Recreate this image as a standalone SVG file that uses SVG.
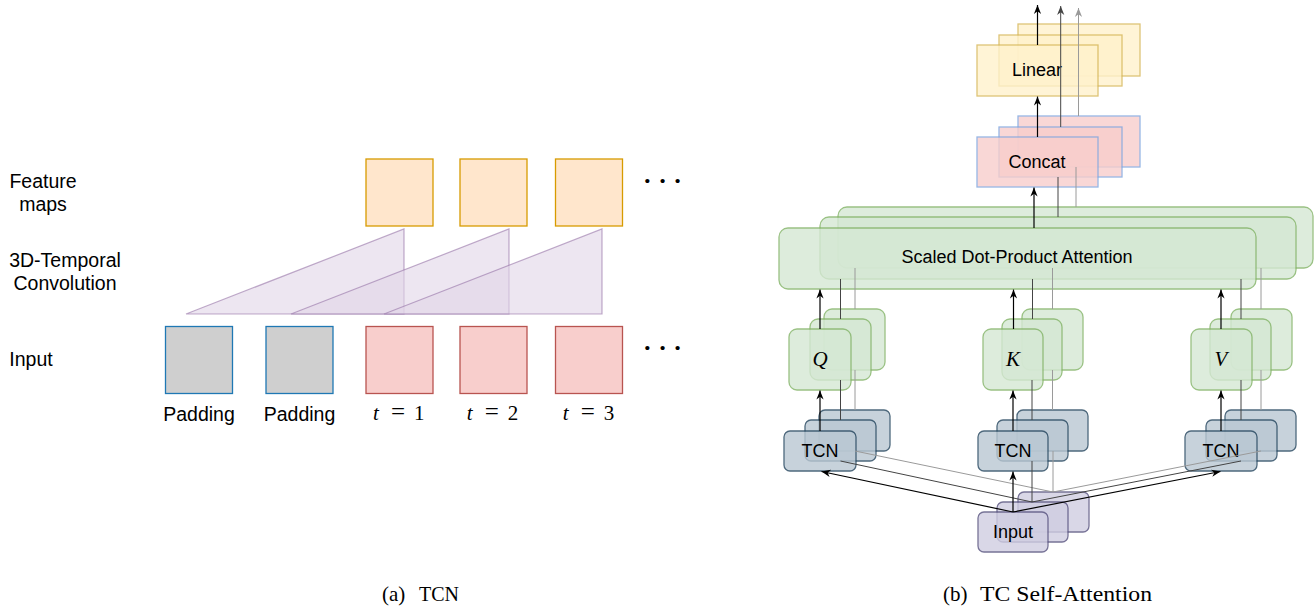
<svg xmlns="http://www.w3.org/2000/svg" width="1314" height="610" viewBox="0 0 1314 610">
<style>
.lbl{font-family:"Liberation Sans",Arial,sans-serif;font-size:19.5px;fill:#000}
.rl{font-family:"Liberation Sans",Arial,sans-serif;font-size:18px;fill:#000;text-anchor:middle}
.math{font-family:"Liberation Serif","Times New Roman",serif;font-size:21px;fill:#000}
.eq{font-size:25px}
.cap{font-family:"Liberation Serif","Times New Roman",serif;font-size:21px;fill:#000}
.dots{font-family:"Liberation Serif","Times New Roman",serif;font-size:26px;font-weight:bold;fill:#000}
.fm{fill:#ffe6cc;stroke:#d79b00;stroke-width:1.3}
.xin{fill:#f8cecc;stroke:#b85450;stroke-width:1.3}
.pad{fill:#cfcfcf;stroke:#1f78b4;stroke-width:1.3}
.tri{fill:#e1d5e7;fill-opacity:.6;stroke:#9673a6;stroke-opacity:.6;stroke-width:1.2}
.stk{opacity:.8;stroke-width:1.3}
.att{fill:#d5e8d4;stroke:#82b366}
.lin{fill:#fff2cc;stroke:#d6b656}
.cat{fill:#f8cecc;stroke:#7ea6e0}
.tcn{fill:#bac8d3;stroke:#23445d}
.inp{fill:#d0cee2;stroke:#56517e}
.c0{stroke:#000;stroke-width:1.2;fill:none}
.c1{stroke:#444;stroke-width:1;fill:none}
.c2{stroke:#9a9a9a;stroke-width:1;fill:none}
</style>
<defs>
<marker id="ah0" viewBox="0 0 10 10" refX="10" refY="5" markerWidth="9" markerHeight="9" markerUnits="userSpaceOnUse" orient="auto"><path d="M0,1 L10,5 L0,9 L3,5 z" fill="#000"/></marker>
<marker id="ah1" viewBox="0 0 10 10" refX="10" refY="5" markerWidth="9" markerHeight="9" markerUnits="userSpaceOnUse" orient="auto"><path d="M0,1 L10,5 L0,9 L3,5 z" fill="#444"/></marker>
<marker id="ah2" viewBox="0 0 10 10" refX="10" refY="5" markerWidth="9" markerHeight="9" markerUnits="userSpaceOnUse" orient="auto"><path d="M0,1 L10,5 L0,9 L3,5 z" fill="#9a9a9a"/></marker>
</defs>
<rect width="1314" height="610" fill="#fff"/>

<!-- (a) TCN -->
<g id="row-labels">
<text class="lbl" x="43" y="188" text-anchor="middle">Feature</text>
<text class="lbl" x="43" y="211" text-anchor="middle">maps</text>
<text class="lbl" x="65" y="267" text-anchor="middle">3D-Temporal</text>
<text class="lbl" x="65" y="290" text-anchor="middle">Convolution</text>
<text class="lbl" x="31" y="366" text-anchor="middle">Input</text>
</g>
<g id="conv">
<polygon class="tri" points="186,314 404,314 404,229"/>
<polygon class="tri" points="291,314 509,314 509,229"/>
<polygon class="tri" points="384,314 602,314 602,229"/>
</g>
<g id="fmap1"><rect class="fm" x="366" y="159" width="67" height="67"/></g>
<g id="fmap2"><rect class="fm" x="460" y="159" width="67" height="67"/></g>
<g id="fmap3"><rect class="fm" x="555.5" y="159" width="67" height="67"/></g>
<g id="fmap-dots"><text class="dots" x="643" y="188.5">· · ·</text></g>
<g id="pad1"><rect class="pad" x="165.5" y="326.5" width="67" height="67"/><text class="lbl" x="199" y="421" text-anchor="middle">Padding</text></g>
<g id="pad2"><rect class="pad" x="266" y="326.5" width="67" height="67"/><text class="lbl" x="299.5" y="421" text-anchor="middle">Padding</text></g>
<g id="in1"><rect class="xin" x="366" y="326.5" width="67" height="67"/><text class="math" y="420"><tspan x="373" font-style="italic">t</tspan><tspan class="eq" x="391">=</tspan><tspan x="414">1</tspan></text></g>
<g id="in2"><rect class="xin" x="460" y="326.5" width="67" height="67"/><text class="math" y="420"><tspan x="466.7" font-style="italic">t</tspan><tspan class="eq" x="484.7">=</tspan><tspan x="507.7">2</tspan></text></g>
<g id="in3"><rect class="xin" x="555.5" y="326.5" width="67" height="67"/><text class="math" y="420"><tspan x="562.7" font-style="italic">t</tspan><tspan class="eq" x="580.7">=</tspan><tspan x="603.7">3</tspan></text></g>
<g id="in-dots"><text class="dots" x="643" y="356">· · ·</text></g>
<g id="caption-a"><text class="cap" y="601"><tspan x="382">(a)</tspan><tspan x="419" textLength="40" lengthAdjust="spacingAndGlyphs">TCN</tspan></text></g>

<!-- (b) TC Self-Attention -->
<g id="linear">
<rect class="stk lin" x="1018" y="24" width="122" height="52"/>
<rect class="stk lin" x="999" y="35" width="123" height="51"/>
<rect class="stk lin" x="977" y="45" width="121" height="51"/>
<text class="rl" x="1037" y="76">Linear</text>
</g>
<g id="concat">
<rect class="stk cat" x="1018" y="116" width="122" height="51"/>
<rect class="stk cat" x="999" y="127" width="123" height="50"/>
<rect class="stk cat" x="977" y="137" width="121" height="50"/>
<text class="rl" x="1037" y="168">Concat</text>
</g>
<g id="attention">
<rect class="stk att" x="838" y="207" width="475" height="61" rx="9"/>
<rect class="stk att" x="820" y="217" width="476" height="62" rx="9"/>
<rect class="stk att" x="779" y="228" width="477" height="61" rx="9"/>
<text class="rl" x="1017" y="263">Scaled Dot-Product Attention</text>
</g>
<g id="q">
<rect class="stk att" x="824" y="309" width="61" height="61" rx="8"/>
<rect class="stk att" x="810" y="319" width="61" height="61" rx="8"/>
<rect class="stk att" x="789" y="329" width="62" height="61" rx="8"/>
<text class="math" x="820" y="366" text-anchor="middle" font-style="italic" font-size="22">Q</text>
</g>
<g id="k">
<rect class="stk att" x="1022" y="309" width="61" height="61" rx="8"/>
<rect class="stk att" x="1002" y="319" width="60" height="61" rx="8"/>
<rect class="stk att" x="983" y="329" width="60" height="61" rx="8"/>
<text class="math" x="1013" y="366" text-anchor="middle" font-style="italic" font-size="22">K</text>
</g>
<g id="v">
<rect class="stk att" x="1231" y="309" width="61" height="61" rx="8"/>
<rect class="stk att" x="1210" y="319" width="61" height="61" rx="8"/>
<rect class="stk att" x="1191" y="329" width="61" height="61" rx="8"/>
<text class="math" x="1221" y="366" text-anchor="middle" font-style="italic" font-size="22">V</text>
</g>
<g id="tcn-q">
<rect class="stk tcn" x="819" y="410" width="71" height="41" rx="6"/>
<rect class="stk tcn" x="805" y="420" width="71" height="41" rx="6"/>
<rect class="stk tcn" x="784" y="431" width="72" height="40" rx="6"/>
<text class="rl" x="820" y="457">TCN</text>
</g>
<g id="tcn-k">
<rect class="stk tcn" x="1017" y="410" width="71" height="41" rx="6"/>
<rect class="stk tcn" x="997" y="420" width="71" height="41" rx="6"/>
<rect class="stk tcn" x="978" y="431" width="70" height="40" rx="6"/>
<text class="rl" x="1013" y="457">TCN</text>
</g>
<g id="tcn-v">
<rect class="stk tcn" x="1225" y="410" width="71" height="41" rx="6"/>
<rect class="stk tcn" x="1206" y="420" width="71" height="41" rx="6"/>
<rect class="stk tcn" x="1185" y="431" width="72" height="40" rx="6"/>
<text class="rl" x="1221" y="457">TCN</text>
</g>
<g id="input">
<rect class="stk inp" x="1018" y="492" width="71" height="40" rx="6"/>
<rect class="stk inp" x="997" y="502" width="71" height="40" rx="6"/>
<rect class="stk inp" x="978" y="512" width="70" height="40" rx="6"/>
<text class="rl" x="1013" y="538">Input</text>
</g>
<g id="caption-b"><text class="cap" y="601"><tspan x="943">(b)</tspan><tspan x="980" textLength="172" lengthAdjust="spacingAndGlyphs">TC Self-Attention</tspan></text></g>

<g id="connectors">
<!-- back copies -->
<line class="c2" x1="1053" y1="492" x2="1053" y2="451"/>
<line class="c2" x1="1053" y1="492" x2="855" y2="451"/>
<line class="c2" x1="1053" y1="492" x2="1261" y2="451"/>
<line class="c2" x1="855" y1="410" x2="855" y2="370"/>
<line class="c2" x1="1052.5" y1="410" x2="1052.5" y2="370"/>
<line class="c2" x1="1261" y1="410" x2="1261" y2="370"/>
<line class="c2" x1="855" y1="309" x2="855" y2="268"/>
<line class="c2" x1="1052.5" y1="309" x2="1052.5" y2="268"/>
<line class="c2" x1="1261" y1="309" x2="1261" y2="268"/>
<line class="c2" x1="1076" y1="207" x2="1076" y2="167"/>
<line class="c2" x1="1078.5" y1="116" x2="1078.5" y2="8" marker-end="url(#ah2)"/>
<!-- middle copies -->
<line class="c1" x1="1032" y1="502" x2="1032" y2="461"/>
<line class="c1" x1="1032" y1="502" x2="840.5" y2="461"/>
<line class="c1" x1="1032" y1="502" x2="1241" y2="461"/>
<line class="c1" x1="840.5" y1="420" x2="840.5" y2="380"/>
<line class="c1" x1="1032" y1="420" x2="1032" y2="380"/>
<line class="c1" x1="1241" y1="420" x2="1241" y2="380"/>
<line class="c1" x1="840.5" y1="319" x2="840.5" y2="279"/>
<line class="c1" x1="1032.5" y1="319" x2="1032.5" y2="279"/>
<line class="c1" x1="1241" y1="319" x2="1241" y2="279"/>
<line class="c1" x1="1058" y1="217" x2="1058" y2="177"/>
<line class="c1" x1="1060.7" y1="127" x2="1060.7" y2="6" marker-end="url(#ah1)"/>
<!-- front -->
<line class="c0" x1="1013" y1="512" x2="1013" y2="471.5" marker-end="url(#ah0)"/>
<line class="c0" x1="1013" y1="512" x2="821.5" y2="471.5" marker-end="url(#ah0)"/>
<line class="c0" x1="1013" y1="512" x2="1220.5" y2="471.5" marker-end="url(#ah0)"/>
<line class="c0" x1="820" y1="431" x2="820" y2="390.5" marker-end="url(#ah0)"/>
<line class="c0" x1="1013" y1="431" x2="1013" y2="390.5" marker-end="url(#ah0)"/>
<line class="c0" x1="1221" y1="431" x2="1221" y2="390.5" marker-end="url(#ah0)"/>
<line class="c0" x1="820" y1="329" x2="820" y2="289.5" marker-end="url(#ah0)"/>
<line class="c0" x1="1013.5" y1="329" x2="1013.5" y2="289.5" marker-end="url(#ah0)"/>
<line class="c0" x1="1221" y1="329" x2="1221" y2="289.5" marker-end="url(#ah0)"/>
<line class="c0" x1="1034" y1="228" x2="1034" y2="187.5" marker-end="url(#ah0)"/>
<line class="c0" x1="1037.5" y1="137" x2="1037.5" y2="96.5" marker-end="url(#ah0)"/>
<line class="c0" x1="1037.5" y1="45" x2="1037.5" y2="5" marker-end="url(#ah0)"/>
</g>
</svg>
